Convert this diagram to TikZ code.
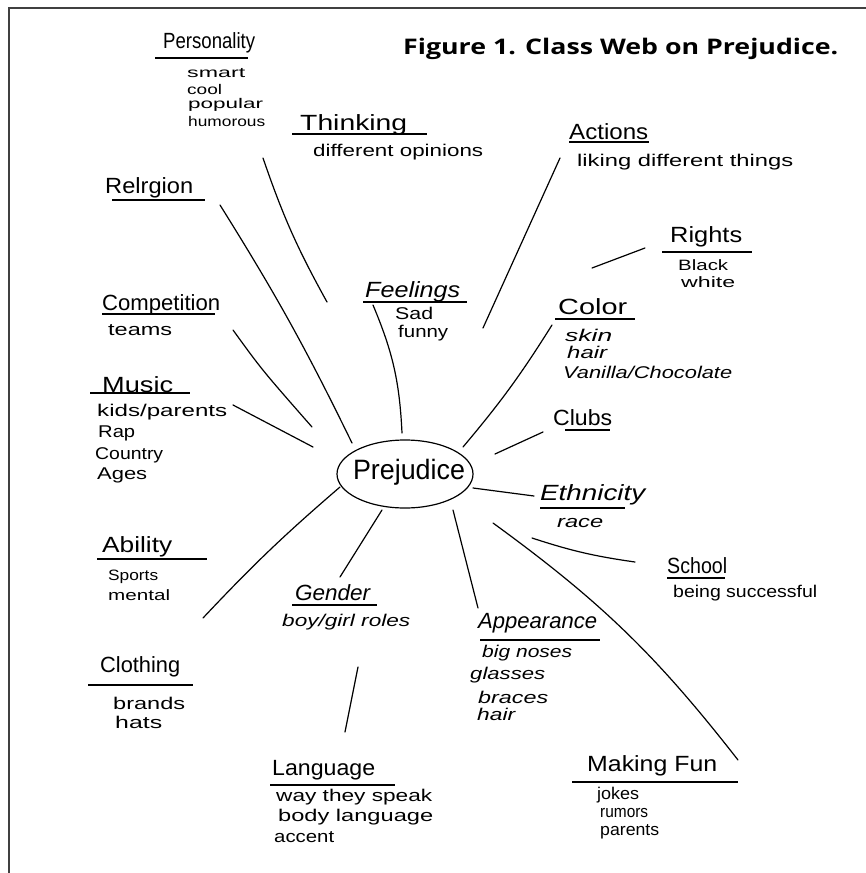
\documentclass[tikz,border=0pt]{standalone}
\usepackage{fontspec}
\usepackage{graphicx}
\setmainfont{Liberation Sans}
\newfontfamily\titlefont{Open Sans}
\usetikzlibrary{shapes.geometric}
\newcommand\hwtext[2]{\resizebox{#1pt}{\height}{#2}}
\tikzset{
  hd/.style={anchor=west,inner sep=0pt,font=\fontsize{22}{22}\selectfont},
  it/.style={anchor=west,inner sep=0pt,font=\fontsize{17}{17}\selectfont},
  sm/.style={anchor=west,inner sep=0pt,font=\fontsize{14}{14}\selectfont},
  uline/.style={line width=1.3pt},
  conn/.style={line width=1.2pt,line cap=round},
  frame/.style={line width=1.2pt,draw=black!75}
}
\begin{document}
\begin{tikzpicture}[x=1pt,y=-1pt]
\useasboundingbox (0,0) rectangle (866,873);
% frame
\draw[frame] (8,8) -- (866,8);
\draw[frame] (9,8) -- (9,873);
% title
\node[anchor=west,inner sep=0pt,font=\titlefont\bfseries\fontsize{21.5}{22}\selectfont] (title) at (403,49) {\hwtext{435}{Figure 1. Class Web on Prejudice.}};
% center
\node[draw,ellipse,line width=1.2pt,minimum width=136pt,minimum height=68pt,inner sep=0pt] (prej) at (405,474) {};
\node[inner sep=0pt,font=\fontsize{28}{28}\selectfont] (prejt) at (409,472) {\hwtext{112}{Prejudice}};
% Personality
\node[hd] (pers) at (163,43) {\hwtext{92}{Personality}};
\draw[uline] (155,58) -- (248,58);
\node[sm] (pers1) at (187,73) {\hwtext{58}{smart}};
\node[sm] (pers2) at (187,89) {\hwtext{35}{cool}};
\node[sm] (pers3) at (188,105) {\hwtext{75}{popular}};
\node[sm] (pers4) at (188,121) {\hwtext{77}{humorous}};
% Thinking
\node[hd] (think) at (300,125) {\hwtext{107}{Thinking}};
\draw[uline] (292,134) -- (427,134);
\node[it] (think1) at (313,152) {\hwtext{170}{different opinions}};
% Relrgion
\node[hd] (relig) at (105,188) {\hwtext{88}{Relrgion}};
\draw[uline] (112,200) -- (205,200);
% Actions
\node[hd] (act) at (569,132) {\hwtext{79}{Actions}};
\draw[uline] (569,142) -- (649,142);
\node[it] (act1) at (577,162) {\hwtext{216}{liking different things}};
% Rights
\node[hd] (rights) at (670,237) {\hwtext{72}{Rights}};
\draw[uline] (662,252) -- (752,252);
\node[it,font=\fontsize{15}{15}\selectfont] (rights1) at (678,265) {\hwtext{50}{Black}};
\node[it,font=\fontsize{15}{15}\selectfont] (rights2) at (681,282) {\hwtext{54}{white}};
% Competition
\node[hd] (comp) at (102,305) {\hwtext{118}{Competition}};
\draw[uline] (102,314) -- (215,314);
\node[it] (comp1) at (108,330) {\hwtext{64}{teams}};
% Feelings
\node[hd,font=\itshape\fontsize{22}{22}\selectfont] (feel) at (365,292) {\hwtext{95}{Feelings}};
\draw[uline] (363,302) -- (467,302);
\node[it] (feel1) at (395,313) {\hwtext{38}{Sad}};
\node[it] (feel2) at (398,333) {\hwtext{50}{funny}};
% Color
\node[hd] (color) at (558,307) {\hwtext{69}{Color}};
\draw[uline] (555,319) -- (635,319);
\node[it,font=\itshape\fontsize{17}{17}\selectfont] (color1) at (565,335) {\hwtext{47}{skin}};
\node[it,font=\itshape\fontsize{17}{17}\selectfont] (color2) at (567,352) {\hwtext{40}{hair}};
\node[it,font=\itshape\fontsize{17}{17}\selectfont] (color3) at (563,372) {\hwtext{169}{Vanilla/Chocolate}};
% Music
\node[hd] (music) at (102,385) {\hwtext{71}{Music}};
\draw[uline] (90,393) -- (190,393);
\node[it] (music1) at (97,412) {\hwtext{130}{kids/parents}};
\node[it] (music2) at (98,433) {\hwtext{37}{Rap}};
\node[it] (music3) at (95,455) {\hwtext{68}{Country}};
\node[it] (music4) at (97,475) {\hwtext{50}{Ages}};
% Clubs
\node[hd] (clubs) at (553,418) {\hwtext{59}{Clubs}};
\draw[uline] (565,430) -- (610,430);
% Ethnicity
\node[hd,font=\itshape\fontsize{22}{22}\selectfont] (eth) at (540,495) {\hwtext{105}{Ethnicity}};
\draw[uline] (540,508) -- (625,508);
\node[it,font=\itshape\fontsize{17}{17}\selectfont] (eth1) at (557,523) {\hwtext{46}{race}};
% School
\node[hd] (school) at (667,566) {\hwtext{60}{School}};
\draw[uline] (667,578) -- (725,578);
\node[it] (school1) at (673,593) {\hwtext{144}{being successful}};
% Ability
\node[hd] (abil) at (102,547) {\hwtext{70}{Ability}};
\draw[uline] (97,559) -- (207,559);
\node[it,font=\fontsize{15}{15}\selectfont] (abil1) at (108,577) {\hwtext{50}{Sports}};
\node[it,font=\fontsize{15}{15}\selectfont] (abil2) at (108,595) {\hwtext{62}{mental}};
% Gender
\node[hd,font=\itshape\fontsize{22}{22}\selectfont] (gender) at (295,593) {\hwtext{75}{Gender}};
\draw[uline] (292,605) -- (377,605);
\node[it,font=\itshape\fontsize{17}{17}\selectfont] (gender1) at (282,622) {\hwtext{128}{boy/girl roles}};
% Appearance
\node[hd,font=\itshape\fontsize{22}{22}\selectfont] (app) at (478,623) {\hwtext{119}{Appearance}};
\draw[uline] (480,640) -- (600,640);
\node[it,font=\itshape\fontsize{17}{17}\selectfont] (app1) at (482,653) {\hwtext{90}{big noses}};
\node[it,font=\itshape\fontsize{17}{17}\selectfont] (app2) at (470,675) {\hwtext{75}{glasses}};
\node[it,font=\itshape\fontsize{17}{17}\selectfont] (app3) at (478,697) {\hwtext{70}{braces}};
\node[it,font=\itshape\fontsize{17}{17}\selectfont] (app4) at (477,714) {\hwtext{38}{hair}};
% Clothing
\node[hd] (cloth) at (100,667) {\hwtext{80}{Clothing}};
\draw[uline] (88,685) -- (193,685);
\node[it] (cloth1) at (113,703) {\hwtext{72}{brands}};
\node[it] (cloth2) at (115,722) {\hwtext{47}{hats}};
% Language
\node[hd] (lang) at (272,770) {\hwtext{103}{Language}};
\draw[uline] (270,785) -- (395,785);
\node[it] (lang1) at (276,797) {\hwtext{156}{way they speak}};
\node[it] (lang2) at (278,817) {\hwtext{155}{body language}};
\node[it] (lang3) at (274,837) {\hwtext{60}{accent}};
% Making Fun
\node[hd] (fun) at (587,766) {\hwtext{130}{Making Fun}};
\draw[uline] (572,782) -- (738,782);
\node[it] (fun1) at (597,795) {\hwtext{42}{jokes}};
\node[it] (fun2) at (600,813) {\hwtext{48}{rumors}};
\node[it] (fun3) at (600,832) {\hwtext{59}{parents}};
% connector end points
\coordinate (c1a) at (263,158); \coordinate (c1b) at (327,302);
\coordinate (c2a) at (220,205); \coordinate (c2b) at (352,443);
\coordinate (c3a) at (233,330); \coordinate (c3m) at (262,370); \coordinate (c3b) at (312,427);
\coordinate (c4a) at (233,405); \coordinate (c4b) at (313,447);
\coordinate (c5a) at (373,305); \coordinate (c5b) at (402,433);
\coordinate (c6a) at (560,158); \coordinate (c6b) at (483,328);
\coordinate (c7a) at (592,268); \coordinate (c7b) at (645,248);
\coordinate (c8a) at (552,325); \coordinate (c8b) at (463,447);
\coordinate (c9a) at (495,454); \coordinate (c9b) at (543,432);
\coordinate (c10a) at (473,488); \coordinate (c10b) at (534,496);
\coordinate (c11a) at (532,538); \coordinate (c11b) at (635,562);
\coordinate (c12a) at (493,523); \coordinate (c12b) at (738,760);
\coordinate (c13a) at (453,510); \coordinate (c13b) at (478,608);
\coordinate (c14a) at (382,510); \coordinate (c14b) at (340,577);
\coordinate (c15a) at (340,487); \coordinate (c15b) at (203,618);
\coordinate (c16a) at (358,667); \coordinate (c16b) at (345,732);
% connectors
\draw[conn] (c1a) to[bend right=5] (c1b);
\draw[conn] (c2a) to[bend left=3] (c2b);
\draw[conn] (c3a) .. controls (c3m) .. (c3b);
\draw[conn] (c4a) -- (c4b);
\draw[conn] (c5a) to[bend left=10] (c5b);
\draw[conn] (c6a) -- (c6b);
\draw[conn] (c7a) -- (c7b);
\draw[conn] (c8a) to[bend left=4] (c8b);
\draw[conn] (c9a) -- (c9b);
\draw[conn] (c10a) -- (c10b);
\draw[conn] (c11a) to[bend right=5] (c11b);
\draw[conn] (c12a) to[bend left=8] (c12b);
\draw[conn] (c13a) -- (c13b);
\draw[conn] (c14a) -- (c14b);
\draw[conn] (c15a) to[bend right=3] (c15b);
\draw[conn] (c16a) -- (c16b);
\end{tikzpicture}
\end{document}
